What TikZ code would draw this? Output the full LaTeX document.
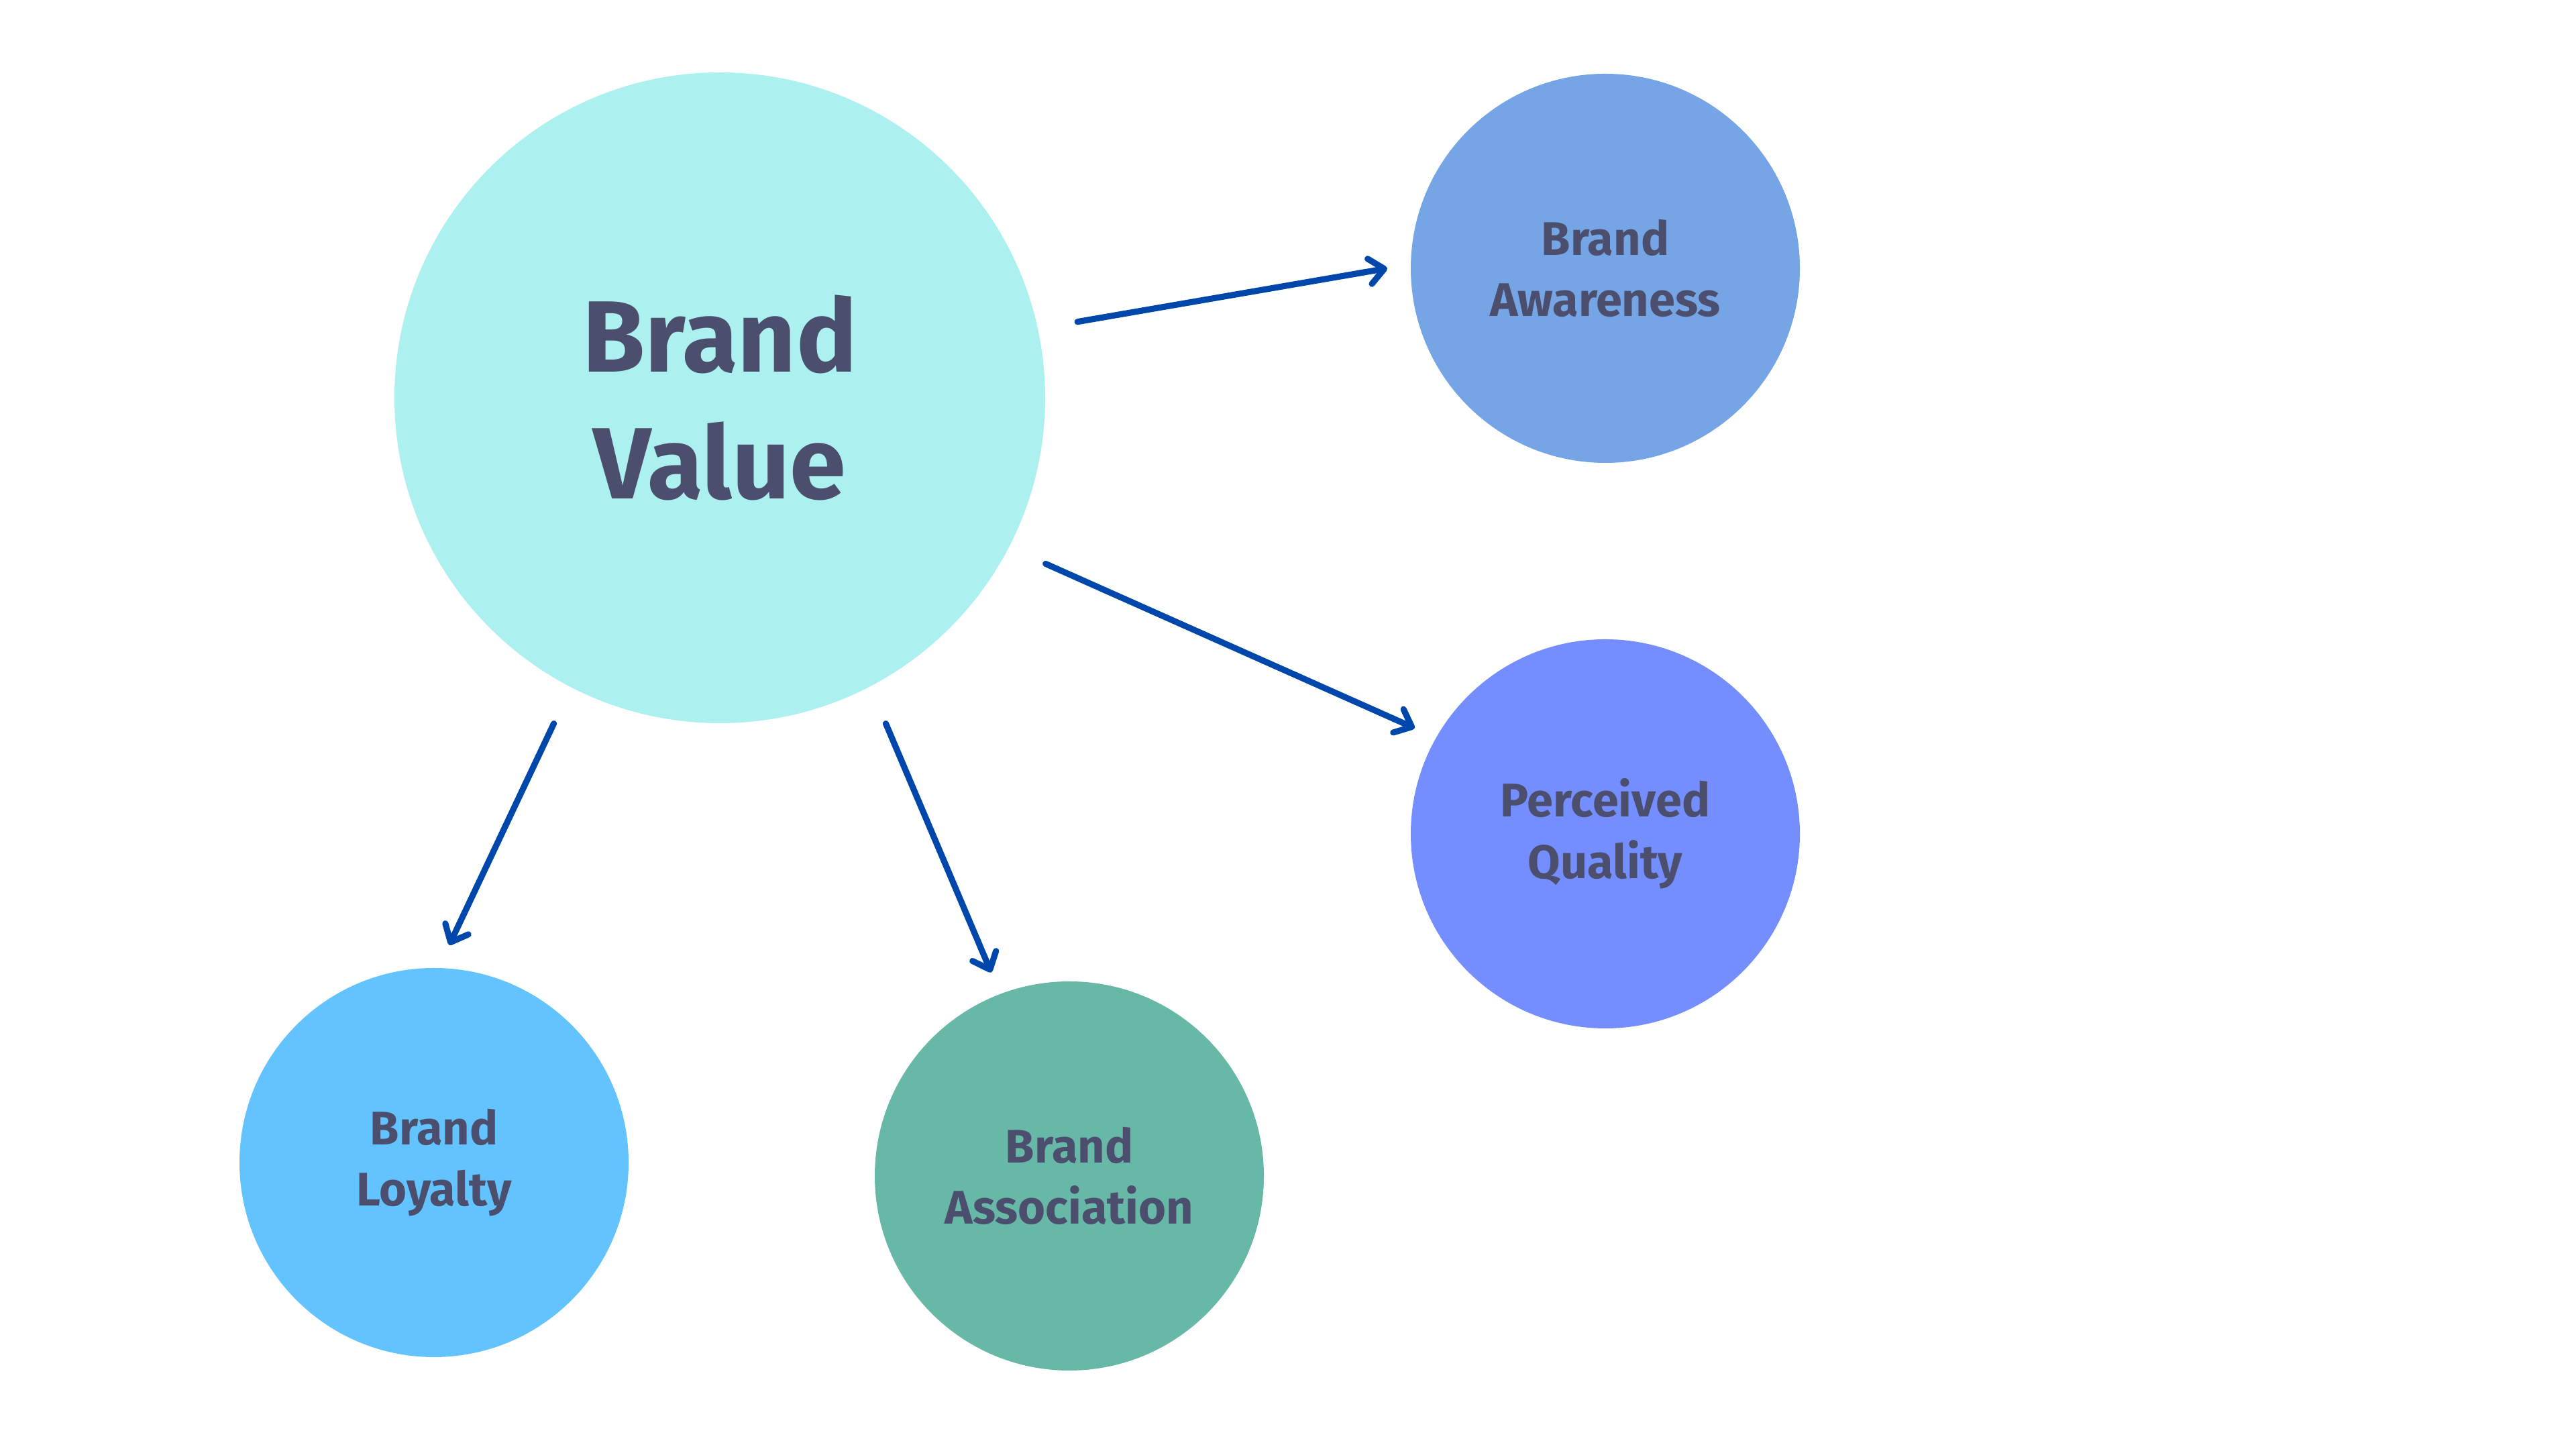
\documentclass[tikz,border=0pt]{standalone}
\usepackage{fontspec}
\setmainfont{Fira Sans}
\usetikzlibrary{arrows.meta}
\definecolor{txtcol}{HTML}{4B4F6D}
\definecolor{arrcol}{HTML}{0047AB}
\definecolor{valuecol}{HTML}{ADF0F0}
\definecolor{awarecol}{HTML}{76A5E5}
\definecolor{qualcol}{HTML}{758EFF}
\definecolor{loyalcol}{HTML}{62C3FF}
\definecolor{assoccol}{HTML}{68B8A8}
\begin{document}
\begin{tikzpicture}[
	bigball/.style={circle, minimum size=9.7cm, inner sep=0pt, outer sep=0.6cm, text=txtcol, align=center, font=\fontsize{43}{54}\selectfont\bfseries},
	ball/.style={circle, minimum size=5.8cm, inner sep=0pt, outer sep=0.35cm, text=txtcol, align=center, font=\fontsize{20}{26}\selectfont\bfseries},
	link/.style={arrcol, line width=2.6pt, line cap=round, -{Straight Barb[length=0.22cm, width=0.38cm, line cap=round, line join=round]}}
]
\fill[white](0,0) rectangle (38.4,21.6);
\useasboundingbox (0,0) rectangle (38.4,21.6);
\node[bigball, fill=valuecol] (value) at (10.73,15.67) {Brand\\Value};
\node[ball, fill=awarecol] (aware) at (23.93,17.60) {Brand\\Awareness};
\node[ball, fill=qualcol] (quality) at (23.93,9.17) {Perceived\\Quality};
\node[ball, fill=loyalcol] (loyalty) at (6.47,4.27) {Brand\\Loyalty};
\node[ball, fill=assoccol] (assoc) at (15.94,4.07) {Brand\\Association};
\draw[link](value.12)--(aware.180);
\draw[link](value.-27)--(quality.151);
\draw[link](value.-117)--(loyalty.86);
\draw[link](value.-63)--(assoc.111);
\end{tikzpicture}
\end{document}
